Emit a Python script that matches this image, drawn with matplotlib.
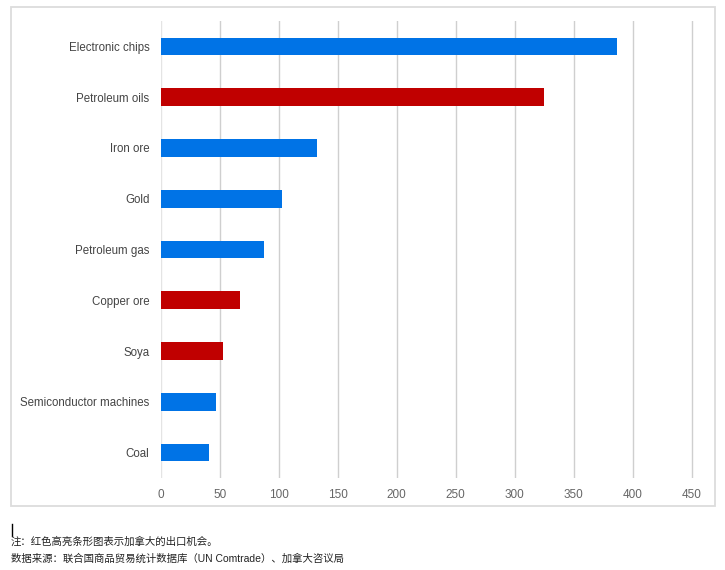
import matplotlib.pyplot as plt
from matplotlib.patches import Rectangle
from matplotlib.lines import Line2D
import numpy as np

# 数据
categories = ["Electronic chips", "Petroleum oils", "Iron ore", "Gold", "Petroleum gas",
              "Copper ore", "Soya", "Semiconductor machines", "Coal"]
values = [386.5, 324.5, 132.7, 102.8, 87.8, 67.2, 52.5, 47.2, 40.7]
highlight = [False, True, False, False, False, True, True, False, False]
xticks = [0, 50, 100, 150, 200, 250, 300, 350, 400, 450]
note_lines = ["注：红色高亮条形图表示加拿大的出口机会。",
              "数据来源：联合国商品贸易统计数据库（UN Comtrade）、加拿大咨议局"]

BLUE = "#0073E6"
RED = "#C00000"
NOTE_FONT = ["Liberation Sans", "Noto Sans CJK SC", "DejaVu Sans"]

W, H = 725, 570
fig = plt.figure(figsize=(W / 100, H / 100), dpi=100)

# 外框
fig.add_artist(Rectangle((11 / W, 1 - 506 / H), (715 - 11) / W, (506 - 7) / H,
                         transform=fig.transFigure, fill=False,
                         edgecolor="#dcdcdc", linewidth=1.3))

ax = fig.add_axes([160.7 / W, 1 - 478 / H, (700 - 160.7) / W, (478 - 21) / H])

y = np.arange(len(categories))
colors = [RED if h else BLUE for h in highlight]
ax.barh(y, values, height=0.35, color=colors, zorder=3)

ax.set_xlim(0, 457)
ax.set_ylim(len(categories) - 0.5, -0.5)

for t in xticks:
    ax.axvline(t, color="#e4e4e4" if t == 0 else "#cfcfcf", linewidth=1, zorder=1)

ax.set_xticks(xticks)
ax.set_xticklabels([str(t) for t in xticks], fontsize=8.5, color="#666666",
                   family="Liberation Sans")
ax.set_yticks(y)
ax.set_yticklabels(categories, fontsize=8.3, color="#444444", family="Liberation Sans")
ax.tick_params(axis="both", length=0)
ax.tick_params(axis="x", pad=8)
ax.tick_params(axis="y", pad=8)
for s in ax.spines.values():
    s.set_visible(False)

# 注释
fig.text(11 / W, 1 - 541.5 / H, note_lines[0], fontsize=7.5, color="#222222",
         family=NOTE_FONT, va="center", ha="left")
fig.text(11 / W, 1 - 559 / H, note_lines[1], fontsize=7.5, color="#222222",
         family=NOTE_FONT, va="center", ha="left")
fig.add_artist(Line2D([11.7 / W, 11.7 / W], [1 - 524 / H, 1 - 536 / H],
                      transform=fig.transFigure, color="black", linewidth=1))

fig.savefig("out.png", dpi=100)
